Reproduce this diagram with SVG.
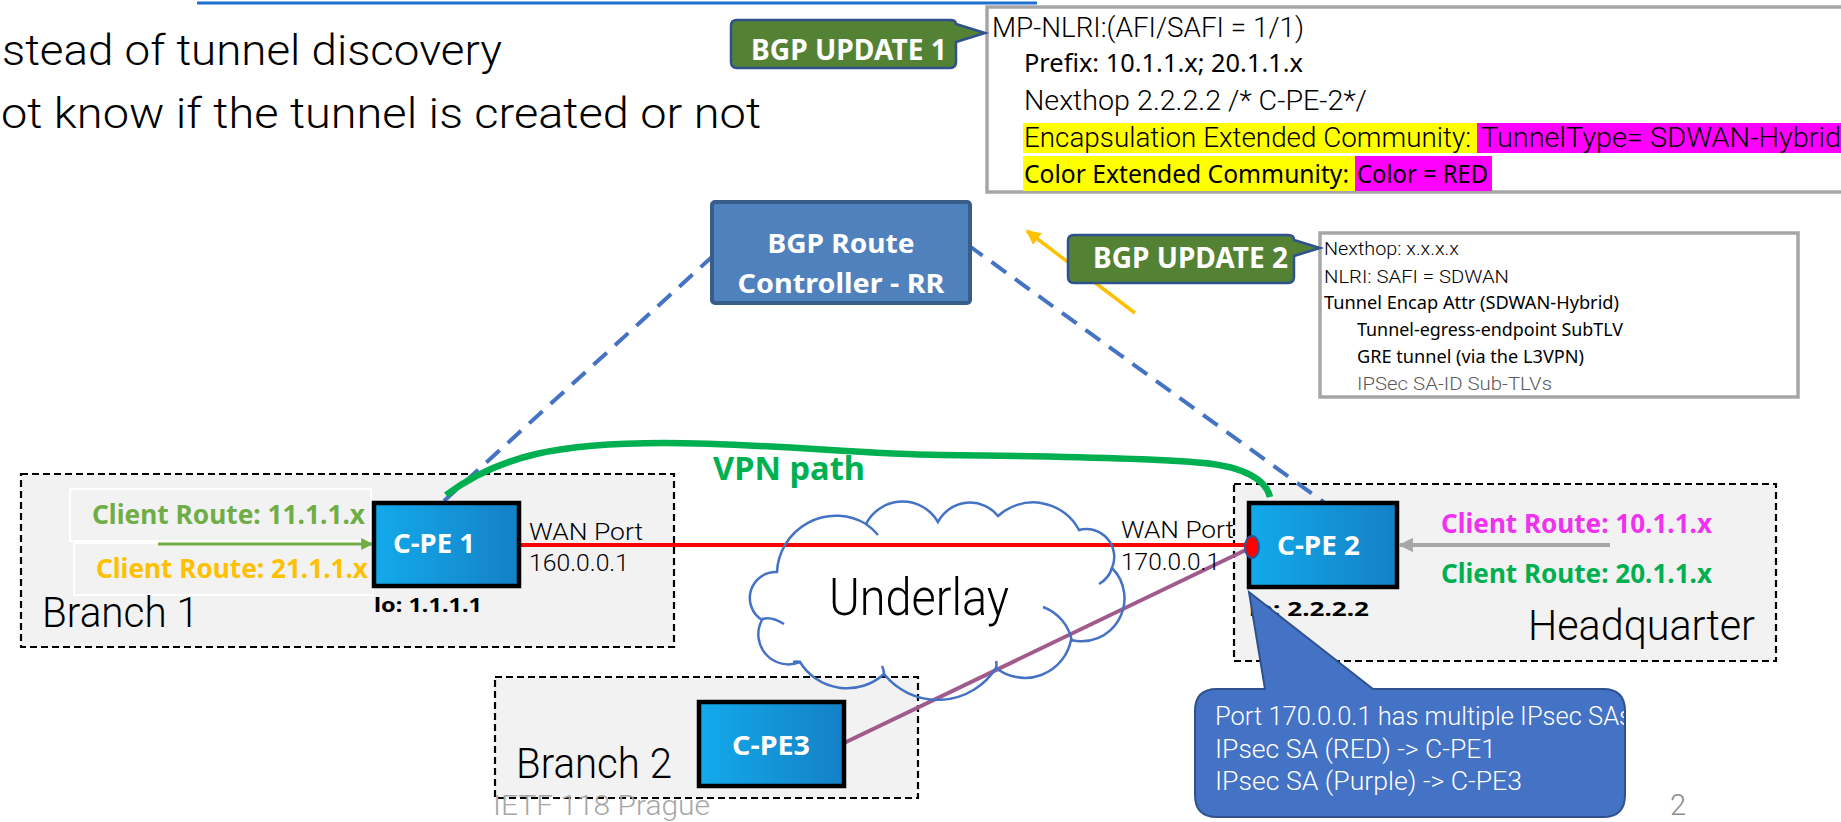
<svg xmlns="http://www.w3.org/2000/svg" width="1841" height="822" viewBox="0 0 1841 822">
  <defs>
    <style>
      .lt { font-family: Roboto, "Liberation Sans", sans-serif; font-weight: 300; }
      .rg { font-family: "Noto Sans", "Liberation Sans", sans-serif; font-weight: 400; }
      .bd { font-family: "Noto Sans", "Liberation Sans", sans-serif; font-weight: 700; }
      .zone { fill: #F2F2F2; stroke: #000; stroke-width: 2.2; stroke-dasharray: 7 4; }
      .dev { fill: url(#devFill); stroke: #000; stroke-width: 4.5; }
      .devTxt { fill: #fff; font-size: 26px; }
      .info { fill: #fff; stroke: #A6A6A6; stroke-width: 3.5; }
      .tag { fill: #548235; stroke: #2F528F; stroke-width: 2.5; }
      .tagTxt { fill: #fff; font-size: 28px; }
      .bgp { fill: none; stroke: #4472C4; stroke-width: 4; stroke-dasharray: 18 11; }
      .cloud { fill: none; stroke: #4472C4; stroke-width: 2.5; }
      .route { font-size: 26px; }
      .port { font-size: 24px; fill: #000; }
      .zoneTxt { font-size: 42px; fill: #000; }
    </style>
    <linearGradient id="devFill" x1="0" y1="0" x2="1" y2="0">
      <stop offset="0" stop-color="#12AAEB"/>
      <stop offset="1" stop-color="#1580C6"/>
    </linearGradient>
    <marker id="ahOrange" viewBox="0 0 10 10" refX="9" refY="5" markerWidth="4.2" markerHeight="4.2" orient="auto">
      <path d="M0,0 L10,5 L0,10 z" fill="#FFC000"/>
    </marker>
    <marker id="ahGreen" viewBox="0 0 10 10" refX="9" refY="5" markerWidth="4.5" markerHeight="4" orient="auto">
      <path d="M0,0 L10,5 L0,10 z" fill="#70AD47"/>
    </marker>
    <marker id="ahGray" viewBox="0 0 10 10" refX="9" refY="5" markerWidth="4" markerHeight="3.6" orient="auto">
      <path d="M0,0 L10,5 L0,10 z" fill="#A6A6A6"/>
    </marker>
    <clipPath id="noteClip">
      <rect x="1195" y="689" width="429" height="128"/>
    </clipPath>
  </defs>

  <rect width="1841" height="822" fill="#fff"/>

  <!-- header link underline and bullet text -->
  <line x1="197" y1="3" x2="1037" y2="3" stroke="#1F6FD0" stroke-width="3"/>
  <text class="lt" x="2" y="65" font-size="43" textLength="500" lengthAdjust="spacingAndGlyphs">stead of tunnel discovery</text>
  <text class="lt" x="1" y="128" font-size="43" textLength="760" lengthAdjust="spacingAndGlyphs">ot know if the tunnel is created or not</text>

  <!-- zones -->
  <g id="branch1">
    <rect class="zone" x="21" y="474" width="653" height="173"/>
    <rect x="70" y="489" width="301" height="52" fill="none" stroke="#fff" stroke-width="2"/>
    <rect x="74" y="543" width="299" height="52" fill="none" stroke="#fff" stroke-width="2"/>
    <text class="lt zoneTxt" x="42" y="627" textLength="157" lengthAdjust="spacingAndGlyphs">Branch 1</text>
  </g>
  <g id="headquarter">
    <rect class="zone" x="1234" y="484" width="542" height="177"/>
    <text class="lt zoneTxt" x="1528" y="640" textLength="227" lengthAdjust="spacingAndGlyphs">Headquarter</text>
  </g>
  <g id="branch2">
    <rect class="zone" x="495" y="677" width="423" height="121"/>
    <text class="lt zoneTxt" x="516" y="778" textLength="156" lengthAdjust="spacingAndGlyphs">Branch 2</text>
  </g>

  <!-- BGP UPDATE 1 content -->
  <g id="update1-box">
    <rect class="info" x="987" y="7" width="900" height="185"/>
    <text class="lt" x="992" y="37" font-size="28" textLength="312" lengthAdjust="spacingAndGlyphs">MP-NLRI:(AFI/SAFI = 1/1)</text>
    <text class="rg" x="1024" y="72" font-size="25" textLength="279" lengthAdjust="spacingAndGlyphs">Prefix: 10.1.1.x; 20.1.1.x</text>
    <text class="lt" x="1024" y="110" font-size="27" textLength="343" lengthAdjust="spacingAndGlyphs">Nexthop 2.2.2.2 /* C-PE-2*/</text>
    <rect x="1023" y="123" width="454" height="30" fill="#FFFF00"/>
    <rect x="1477" y="123" width="370" height="30" fill="#FF00FF"/>
    <text class="lt" x="1024" y="147" font-size="27" textLength="447" lengthAdjust="spacingAndGlyphs">Encapsulation Extended Community:</text>
    <text class="lt" x="1481" y="147" font-size="27" textLength="360" lengthAdjust="spacingAndGlyphs">TunnelType= SDWAN-Hybrid</text>
    <rect x="1023" y="156" width="332" height="35" fill="#FFFF00"/>
    <rect x="1355" y="156" width="137" height="35" fill="#FF00FF"/>
    <text class="rg" x="1024" y="183" font-size="25" textLength="325" lengthAdjust="spacingAndGlyphs">Color Extended Community:</text>
    <text class="rg" x="1357" y="183" font-size="25" textLength="131" lengthAdjust="spacingAndGlyphs">Color = RED</text>
  </g>
  <g id="update1-tag">
    <path class="tag" d="M737,20 H950 Q956,20 956,24 L985,33 L956,42 V62 Q956,68 950,68 H737 Q731,68 731,62 V26 Q731,20 737,20 Z"/>
    <text class="bd tagTxt" x="751" y="60" textLength="196" lengthAdjust="spacingAndGlyphs">BGP UPDATE 1</text>
  </g>

  <!-- BGP UPDATE 2 content -->
  <g id="update2-box">
    <rect class="info" x="1320" y="233" width="478" height="164"/>
    <text class="lt" x="1324" y="255" font-size="18" textLength="135" lengthAdjust="spacingAndGlyphs">Nexthop: x.x.x.x</text>
    <text class="lt" x="1324" y="283" font-size="18" textLength="185" lengthAdjust="spacingAndGlyphs">NLRI: SAFI = SDWAN</text>
    <text class="rg" x="1324" y="309" font-size="18" textLength="295" lengthAdjust="spacingAndGlyphs">Tunnel Encap Attr (SDWAN-Hybrid)</text>
    <text class="rg" x="1357" y="336" font-size="18" textLength="266" lengthAdjust="spacingAndGlyphs">Tunnel-egress-endpoint SubTLV</text>
    <text class="rg" x="1357" y="363" font-size="18" textLength="227" lengthAdjust="spacingAndGlyphs">GRE tunnel (via the L3VPN)</text>
    <text class="lt" x="1357" y="390" font-size="18" fill="#595959" textLength="195" lengthAdjust="spacingAndGlyphs">IPSec SA-ID Sub-TLVs</text>
  </g>

  <!-- connectors -->
  <g id="connectors">
    <line class="bgp" x1="714" y1="255" x2="444" y2="501"/>
    <line class="bgp" x1="968" y1="245" x2="1325" y2="503"/>
    <line x1="1135" y1="313" x2="1027" y2="231" stroke="#FFC000" stroke-width="3.5" marker-end="url(#ahOrange)"/>
    <line x1="158" y1="544" x2="372" y2="544" stroke="#70AD47" stroke-width="3" marker-end="url(#ahGreen)"/>
    <line x1="1610" y1="545" x2="1400" y2="545" stroke="#A6A6A6" stroke-width="4" marker-end="url(#ahGray)"/>
    <line x1="519" y1="545" x2="1250" y2="545" stroke="#FF0000" stroke-width="4"/>
    <line x1="1252" y1="547" x2="844" y2="743" stroke="#A05A8C" stroke-width="4"/>
    <path d="M446,495 C500,455 560,443 664,443 C760,443 860,454 940,455 C1040,456 1150,458 1204,463 C1245,467 1266,480 1270,497" fill="none" stroke="#00B050" stroke-width="6.5"/>
  </g>

  <g id="update2-tag">
    <path class="tag" d="M1074,235 H1288 Q1294,235 1294,240 L1320,248 L1294,256 V277 Q1294,283 1288,283 H1074 Q1068,283 1068,277 V241 Q1068,235 1074,235 Z"/>
    <text class="bd tagTxt" x="1093" y="268" textLength="195" lengthAdjust="spacingAndGlyphs">BGP UPDATE 2</text>
  </g>

  <g id="route-reflector">
    <rect x="712" y="202" width="258" height="101" rx="3" fill="#4F81BD" stroke="#385D8A" stroke-width="4"/>
    <text class="bd" x="841" y="253" font-size="26" fill="#fff" text-anchor="middle" textLength="147" lengthAdjust="spacingAndGlyphs">BGP Route</text>
    <text class="bd" x="841" y="293" font-size="26" fill="#fff" text-anchor="middle" textLength="207" lengthAdjust="spacingAndGlyphs">Controller - RR</text>
  </g>

  <text class="bd" x="713" y="480" font-size="32" fill="#00B050" textLength="152" lengthAdjust="spacingAndGlyphs">VPN path</text>

  <!-- underlay network -->
  <g id="underlay">
    <path class="cloud" d="M777,572 A59,59 0 0 1 866,524 A41,41 0 0 1 938,522 A36,36 0 0 1 998,516 A52,52 0 0 1 1079,530 A28,28 0 0 1 1112,568 A43,43 0 0 1 1071,640 A47,47 0 0 1 996,668 A69,69 0 0 1 884,674 A55,55 0 0 1 800,662 A30,30 0 0 1 762,620 A26,26 0 0 1 777,572 Z"/>
    <path class="cloud" d="M866,524 A59,59 0 0 1 878,535 M1112,568 A28,28 0 0 1 1099,584 M1043,607 A45,45 0 0 1 1072,642 M762,619 Q772,616 784,624 M884,674 Q884,670 882,666 M996,668 Q997,664 996,661 M800,662 Q797,661 793,662"/>
    <text class="lt" x="829" y="615" font-size="52" textLength="180" lengthAdjust="spacingAndGlyphs">Underlay</text>
  </g>

  <!-- customer edge devices -->
  <g id="cpe1">
    <rect class="dev" x="374" y="503" width="145" height="83"/>
    <text class="bd devTxt" x="393" y="553" textLength="82" lengthAdjust="spacingAndGlyphs">C-PE 1</text>
    <text class="bd" x="374" y="612" font-size="20" textLength="108" lengthAdjust="spacingAndGlyphs">lo: 1.1.1.1</text>
    <text class="lt port" x="529" y="540" textLength="114" lengthAdjust="spacingAndGlyphs">WAN Port</text>
    <text class="lt port" x="529" y="571" textLength="100" lengthAdjust="spacingAndGlyphs">160.0.0.1</text>
    <text class="bd route" x="92" y="524" fill="#70AD47" textLength="273" lengthAdjust="spacingAndGlyphs">Client Route: 11.1.1.x</text>
    <text class="bd route" x="96" y="578" fill="#FFC000" textLength="272" lengthAdjust="spacingAndGlyphs">Client Route: 21.1.1.x</text>
  </g>

  <g id="cpe2">
    <rect class="dev" x="1249" y="503" width="148" height="84"/>
    <text class="bd devTxt" x="1277" y="555" textLength="83" lengthAdjust="spacingAndGlyphs">C-PE 2</text>
    <text class="bd" x="1249" y="616" font-size="20" textLength="120" lengthAdjust="spacingAndGlyphs">lo: 2.2.2.2</text>
    <text class="lt port" x="1121" y="538" textLength="113" lengthAdjust="spacingAndGlyphs">WAN Port</text>
    <text class="lt port" x="1121" y="570" textLength="99" lengthAdjust="spacingAndGlyphs">170.0.0.1</text>
    <text class="bd route" x="1441" y="533" fill="#F032F0" textLength="271" lengthAdjust="spacingAndGlyphs">Client Route: 10.1.1.x</text>
    <text class="bd route" x="1441" y="583" fill="#00B050" textLength="271" lengthAdjust="spacingAndGlyphs">Client Route: 20.1.1.x</text>
  </g>

  <g id="cpe3">
    <rect class="dev" x="699" y="702" width="145" height="84"/>
    <text class="bd devTxt" x="732" y="755" textLength="78" lengthAdjust="spacingAndGlyphs">C-PE3</text>
  </g>

  <!-- WAN port endpoint -->
  <ellipse id="wan-port" cx="1252" cy="547" rx="7" ry="11" fill="#FF0000" stroke="#2F5597" stroke-width="2"/>

  <!-- IPsec SA note -->
  <g id="sa-note">
    <path d="M1217,689 H1265 L1249,592 L1373,689 H1603 Q1625,689 1625,711 V795 Q1625,817 1603,817 H1217 Q1195,817 1195,795 V711 Q1195,689 1217,689 Z" fill="#4472C4" stroke="#2F528F" stroke-width="2"/>
    <g clip-path="url(#noteClip)" class="lt" font-size="26" fill="#fff">
      <text x="1215" y="725" textLength="417" lengthAdjust="spacingAndGlyphs">Port 170.0.0.1 has multiple IPsec SAs</text>
      <text x="1215" y="758" textLength="281" lengthAdjust="spacingAndGlyphs">IPsec SA (RED) -&gt; C-PE1</text>
      <text x="1215" y="790" textLength="307" lengthAdjust="spacingAndGlyphs">IPsec SA (Purple) -&gt; C-PE3</text>
    </g>
  </g>

  <!-- footer -->
  <text class="lt" x="493" y="815" font-size="27" fill="#A6A6A6" textLength="217" lengthAdjust="spacingAndGlyphs">IETF 118 Prague</text>
  <text class="lt" x="1670" y="815" font-size="29" fill="#8C8C8C">2</text>
</svg>
